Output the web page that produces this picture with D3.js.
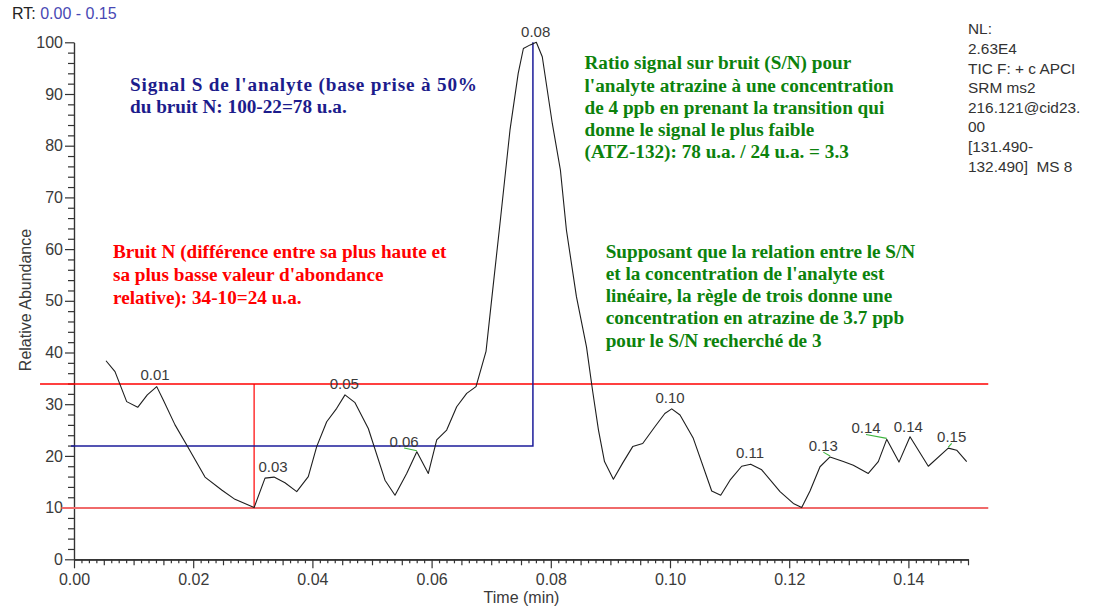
<!DOCTYPE html>
<html>
<head>
<meta charset="utf-8">
<script src="https://cdn.jsdelivr.net/npm/d3@7"></script>
<style>
  html, body { margin: 0; padding: 0; background: #fff; }
  svg { display: block; }
  text { font-family: "Liberation Sans", Arial, sans-serif; }
  .note { font-family: "Liberation Serif", "Times New Roman", serif; font-weight: bold; font-size: 19.2px; }
</style>
</head>
<body>
<svg id="chart" width="1097" height="614"></svg>
<script>
// ---- Chromatogram trace: retention time (min) vs relative abundance (%) ----
const times = [
  0.00537, 0.00688, 0.00884, 0.01069, 0.01230, 0.01388, 0.01498, 0.01695, 0.01891, 0.02198,
  0.02478, 0.02701, 0.03022, 0.03205, 0.03356, 0.03540, 0.03737, 0.03931, 0.04072, 0.04240,
  0.04408, 0.04547, 0.04715, 0.04938, 0.05218, 0.05386, 0.05582, 0.05752, 0.05945, 0.06086,
  0.06253, 0.06421, 0.06589, 0.06745, 0.06913, 0.07013, 0.07148, 0.07315, 0.07453, 0.07540,
  0.07654, 0.07757, 0.07857, 0.08025, 0.08161, 0.08262, 0.08430, 0.08599, 0.08700, 0.08800,
  0.08901, 0.09050, 0.09205, 0.09374, 0.09542, 0.09743, 0.09913, 0.10029, 0.10168, 0.10391,
  0.10700, 0.10851, 0.11007, 0.11203, 0.11354, 0.11539, 0.11846, 0.12069, 0.12210, 0.12349,
  0.12517, 0.12685, 0.12908, 0.13076, 0.13327, 0.13495, 0.13636, 0.13842, 0.14027, 0.14334,
  0.14669, 0.14810, 0.14978
];
const abundance = [
  38.4, 36.3, 30.5, 29.4, 31.8, 33.4, 30.8, 26.0, 22.1, 15.9,
  13.4, 11.6, 10.0, 15.7, 15.9, 14.8, 13.1, 16.0, 21.8, 26.6,
  29.2, 31.8, 30.3, 25.3, 15.3, 12.4, 16.6, 20.8, 16.6, 23.1,
  25.0, 29.5, 32.1, 33.4, 40.2, 50.8, 65.0, 83.0, 94.0, 98.8,
  99.5, 100.0, 97.2, 84.3, 75.3, 63.7, 50.8, 41.1, 32.7, 25.0,
  18.9, 15.5, 18.6, 21.8, 22.4, 25.6, 28.2, 29.1, 27.9, 23.4,
  13.2, 12.4, 15.3, 18.0, 18.4, 17.3, 13.1, 10.8, 10.0, 13.2,
  17.9, 19.8, 18.9, 18.2, 16.6, 18.9, 23.2, 18.8, 23.7, 18.0,
  21.5, 21.1, 18.9
];

// Apexes labelled with their retention time
const apexTimes = [0.01388, 0.03022, 0.04547, 0.05752, 0.07757, 0.10029, 0.11354, 0.12685, 0.13636, 0.14027, 0.14669];

// Axis ticks
const xTickValues = [0.00, 0.02, 0.04, 0.06, 0.08, 0.10, 0.12, 0.14];
const yTickValues = [0, 10, 20, 30, 40, 50, 60, 70, 80, 90, 100];

// S/N reading (relative abundance units)
const noiseHigh = 34;
const noiseLow = 10;
const noiseLowTime = 0.03022;
const halfNoiseBase = 22;
const signalTop = 100;
const signalTime = 0.0770;

// Text blocks
const headerRange = "0.00 - 0.15";
const signalNote = ["Signal S de l'analyte (base prise à 50%", "du bruit N: 100-22=78 u.a."];
const noiseNote = ["Bruit N (différence entre sa plus haute et", "sa plus basse valeur d'abondance", "relative): 34-10=24 u.a."];
const ratioNote = ["Ratio signal sur bruit (S/N) pour", "l'analyte atrazine à une concentration",
  "de 4 ppb en prenant la transition qui", "donne le signal le plus faible", "(ATZ-132): 78 u.a. / 24 u.a. = 3.3"];
const ruleNote = ["Supposant que la relation entre le S/N", "et la concentration de l'analyte est",
  "linéaire, la règle de trois donne une", "concentration en atrazine de 3.7 ppb", "pour le S/N recherché de 3"];
const scanInfo = ["NL:", "2.63E4", "TIC F: + c APCI", "SRM ms2", "216.121@cid23.", "00", "[131.490-", "132.490]\u00a0 MS 8"];

// ---- Layout ----
const svg = d3.select("#chart");
const plot = { left: 74, right: 968, top: 42.3, bottom: 559.3 };

const x = d3.scaleLinear().domain([0, 0.15]).range([plot.left, plot.right]);
const y = d3.scaleLinear().domain([0, 100]).range([plot.bottom, plot.top]);

const axisColor = "#333";
const labelColor = "#3a3a3a";

// X axis: major, medium (0.005) and minor (0.00125) ticks
const xMinor = d3.range(0, 121).map(i => i * 0.00125);
const xAxisG = svg.append("g").attr("transform", `translate(0,${plot.bottom})`);
xAxisG.append("g")
  .call(d3.axisBottom(x).tickValues(xMinor.filter((d, i) => i % 4 !== 0)).tickSize(4).tickSizeOuter(0).tickFormat(""));
xAxisG.append("g")
  .call(d3.axisBottom(x).tickValues(xMinor.filter((d, i) => i % 4 === 0 && i % 16 !== 0)).tickSize(6).tickSizeOuter(0).tickFormat(""));
xAxisG.append("g")
  .call(d3.axisBottom(x).tickValues(xTickValues).tickSize(9).tickSizeOuter(0).tickPadding(5).tickFormat(d3.format(".2f")));

// Y axis: major every 10, minor every 2
const yMinor = d3.range(0, 51).map(i => i * 2).filter(d => d % 10 !== 0);
const yAxisG = svg.append("g").attr("transform", `translate(${plot.left},0)`);
yAxisG.append("g")
  .call(d3.axisLeft(y).tickValues(yMinor).tickSize(6).tickSizeOuter(0).tickFormat(""));
yAxisG.append("g")
  .call(d3.axisLeft(y).tickValues(yTickValues).tickSize(9).tickSizeOuter(0).tickPadding(2).tickFormat(d3.format("d")));

svg.selectAll(".tick line, .domain").attr("stroke", axisColor).attr("stroke-width", 1.2);
svg.selectAll(".tick text").attr("font-size", 16).attr("fill", labelColor)
  .attr("font-family", "'Liberation Sans', Arial, sans-serif");

// Axis titles
svg.append("text")
  .attr("x", (plot.left + plot.right) / 2 + 0.5).attr("y", 603)
  .attr("text-anchor", "middle").attr("font-size", 16).attr("fill", labelColor)
  .text("Time (min)");
svg.append("text")
  .attr("transform", `translate(31,${300}) rotate(-90)`)
  .attr("text-anchor", "middle").attr("font-size", 16).attr("fill", labelColor)
  .text("Relative Abundance");

// Header
const header = svg.append("text").attr("x", 12).attr("y", 19).attr("font-size", 16);
header.append("tspan").attr("fill", "#222").text("RT: ");
header.append("tspan").attr("fill", "#4848b4").text(headerRange);

// ---- Guide lines for the S/N reading ----
const red = "#ff0000";
const lowRed = "#f06a6a";
const navy = "#1c1c9a";
const guides = svg.append("g").attr("fill", "none");
const snap = v => Math.round(v);

// noise high and low levels
guides.append("line")
  .attr("x1", x(-0.0057)).attr("x2", x(0.1534))
  .attr("y1", snap(y(noiseHigh))).attr("y2", snap(y(noiseHigh)))
  .style("stroke", red).attr("stroke-width", 1.6);
guides.append("line")
  .attr("x1", x(-0.0021)).attr("x2", x(0.1534))
  .attr("y1", snap(y(noiseLow))).attr("y2", snap(y(noiseLow)))
  .style("stroke", lowRed).attr("stroke-width", 2);
// noise amplitude
guides.append("line")
  .attr("x1", x(noiseLowTime)).attr("x2", x(noiseLowTime))
  .attr("y1", y(noiseLow)).attr("y2", snap(y(noiseHigh)))
  .style("stroke", red).attr("stroke-width", 1.2);
// half-noise base and signal height
guides.append("path")
  .attr("d", d3.line()([
    [x(-0.0005), snap(y(halfNoiseBase))],
    [x(signalTime), snap(y(halfNoiseBase))],
    [x(signalTime), y(signalTop)]
  ]))
  .style("stroke", navy).attr("stroke-width", 1.5);

// ---- Trace ----
const points = times.map((t, i) => [t, abundance[i]]);
svg.append("path")
  .datum(points)
  .attr("d", d3.line().x(d => x(d[0])).y(d => y(d[1])))
  .attr("fill", "none").attr("stroke", "#1e1e1e").attr("stroke-width", 1.1)
  .attr("stroke-linejoin", "round");

// ---- Apex labels ----
// offset of each label from its apex (px) and whether a leader is drawn
const labelOffsets = [
  [-1.7, -6.7, false], [19, -35.7, false], [-0.7, -5.7, false], [-12.7, -5, true],
  [-0.6, -5.7, false], [-1.7, -6.3, false], [-0.7, -6, false], [-6.7, -6, true],
  [-20.7, -6, true], [-1.7, -5, false], [3.4, -6, true]
];
const fmt = d3.format(".2f");
apexTimes.forEach((t, k) => {
  const i = times.indexOf(t);
  const px = x(times[i]), py = y(abundance[i]);
  const [dx, dy, leader] = labelOffsets[k];
  if (leader) {
    svg.append("line")
      .attr("x1", px + dx).attr("y1", py + dy + 1.2)
      .attr("x2", px).attr("y2", py - 1)
      .attr("stroke", "#3cb43c").attr("stroke-width", 1.1);
  }
  svg.append("text")
    .attr("x", px + dx).attr("y", py + dy)
    .attr("text-anchor", "middle").attr("font-size", 15).attr("fill", labelColor)
    .text(fmt(t));
});

// ---- Annotations ----
function block(lines, x0, y0, step, color, widths) {
  const g = svg.append("text").attr("class", "note").attr("fill", color);
  lines.forEach((s, i) => {
    const ts = g.append("tspan").attr("x", x0).attr("y", y0 + i * step).text(s);
    if (widths && widths[i]) ts.attr("textLength", widths[i]).attr("lengthAdjust", "spacing");
  });
}
block(signalNote, 130, 90.7, 22, "#1c1c8c", [347]);
block(noiseNote, 113, 258.3, 23, "#ff0000");
block(ratioNote, 584.5, 69.3, 22.25, "#0c820c");
block(ruleNote, 605.7, 257.7, 22.25, "#0c820c");

// Scan information
const info = svg.append("text").attr("font-size", 15.4).attr("fill", "#333");
scanInfo.forEach((s, i) => info.append("tspan").attr("x", 968).attr("y", 34.3 + i * 19.6).text(s));
</script>
</body>
</html>
